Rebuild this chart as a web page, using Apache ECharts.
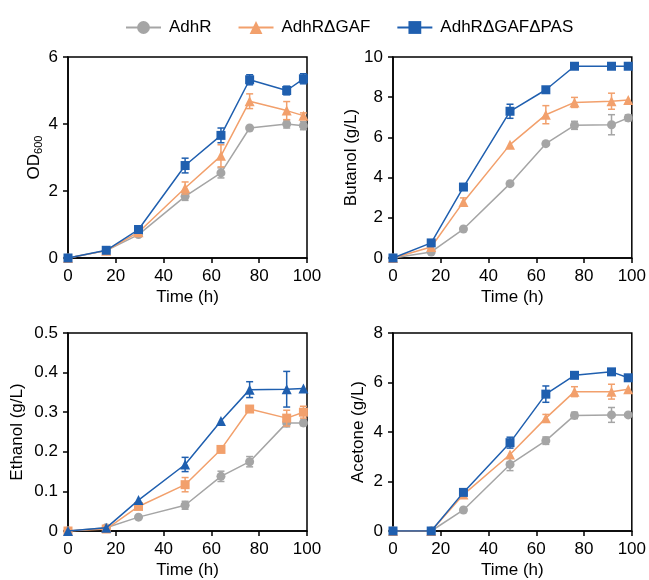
<!DOCTYPE html>
<html>
<head>
<meta charset="utf-8">
<script src="https://cdn.jsdelivr.net/npm/echarts@6/dist/echarts.min.js"></script>
<style>
  html, body { margin: 0; padding: 0; background: #fff; }
  #main { width: 649px; height: 580px; }
</style>
</head>
<body>
<div id="main"></div>
<script>
// sampling times (h)
const times = [0, 16, 29.5, 49, 64, 76, 91.5, 98.5];
const strains = ["AdhR", "AdhRΔGAF", "AdhRΔGAFΔPAS"];

// OD600
const odAdhR = [0, 0.22, 0.7, 1.84, 2.54, 3.88, 4.0, 3.95];
const odAdhRErr = [0, 0, 0, 0.12, 0.15, 0, 0.12, 0.12];
const odGAF = [0, 0.22, 0.77, 2.09, 3.05, 4.68, 4.4, 4.25];
const odGAFErr = [0, 0, 0, 0.18, 0.33, 0.22, 0.27, 0.08];
const odPAS = [0, 0.23, 0.85, 2.76, 3.66, 5.32, 5.0, 5.35];
const odPASErr = [0, 0, 0.05, 0.22, 0.22, 0.15, 0.13, 0.15];

// Butanol (g/L)
const buAdhR = [0, 0.3, 1.44, 3.7, 5.69, 6.6, 6.63, 6.97];
const buAdhRErr = [0, 0, 0, 0, 0, 0.2, 0.5, 0.15];
const buGAF = [0, 0.55, 2.79, 5.64, 7.13, 7.74, 7.8, 7.86];
const buGAFErr = [0, 0, 0.2, 0, 0.45, 0.25, 0.4, 0];
const buPAS = [0, 0.75, 3.53, 7.3, 8.37, 9.54, 9.54, 9.54];
const buPASErr = [0, 0, 0, 0.35, 0, 0, 0, 0];

// Ethanol (g/L)
const etAdhR = [0, 0.008, 0.035, 0.065, 0.138, 0.175, 0.273, 0.273];
const etAdhRErr = [0, 0, 0, 0.01, 0.013, 0.013, 0.01, 0.007];
const etGAF = [0, 0.005, 0.062, 0.117, 0.206, 0.308, 0.285, 0.3];
const etGAFErr = [0, 0, 0, 0.018, 0, 0, 0.02, 0.015];
const etPAS = [0, 0.008, 0.078, 0.168, 0.278, 0.357, 0.358, 0.36];
const etPASErr = [0, 0, 0, 0.018, 0, 0.02, 0.045, 0];

// Acetone (g/L)
const acAdhR = [0, 0, 0.85, 2.69, 3.65, 4.67, 4.69, 4.69];
const acAdhRErr = [0, 0, 0, 0.25, 0.15, 0.13, 0.3, 0];
const acGAF = [0, 0, 1.47, 3.09, 4.56, 5.63, 5.63, 5.73];
const acGAFErr = [0, 0, 0, 0, 0.15, 0.2, 0.3, 0];
const acPAS = [0, 0, 1.56, 3.57, 5.53, 6.29, 6.43, 6.19];
const acPASErr = [0, 0, 0, 0.22, 0.33, 0.1, 0, 0];

const colors = ["#a5a5a5", "#f2a06c", "#1f5faf"];
const font = "Liberation Sans, Arial, sans-serif";

const panels = [
  { name: "OD{s|600}", max: 6, interval: 2, gap: 23,
    data: [[odAdhR, odAdhRErr], [odGAF, odGAFErr], [odPAS, odPASErr]],
    symbols: ["circle", "triangle", "rect"] },
  { name: "Butanol (g/L)", max: 10, interval: 2, gap: 26,
    data: [[buAdhR, buAdhRErr], [buGAF, buGAFErr], [buPAS, buPASErr]],
    symbols: ["circle", "triangle", "rect"] },
  { name: "Ethanol (g/L)", max: 0.5, interval: 0.1, gap: 42,
    data: [[etAdhR, etAdhRErr], [etGAF, etGAFErr], [etPAS, etPASErr]],
    symbols: ["circle", "rect", "triangle"] },
  { name: "Acetone (g/L)", max: 8, interval: 2, gap: 26,
    data: [[acAdhR, acAdhRErr], [acGAF, acGAFErr], [acPAS, acPASErr]],
    symbols: ["circle", "triangle", "rect"] }
];

const grids = [
  { left: 68, top: 57, width: 239, height: 201 },
  { left: 393, top: 57, width: 240, height: 201 },
  { left: 68, top: 333, width: 239, height: 200 },
  { left: 393, top: 333, width: 240, height: 200 }
];

const xAxis = [], yAxis = [], lineSeries = [], errSeries = [];

panels.forEach((p, k) => {
  xAxis.push({
    type: "value", gridIndex: k, min: 0, max: 100, interval: 20,
    name: "Time (h)", nameLocation: "middle", nameGap: 31,
    nameTextStyle: { fontSize: 17, color: "#000", fontFamily: font },
    axisLine: { lineStyle: { color: "#000", width: 1.5 } },
    axisTick: { length: 5, lineStyle: { color: "#000", width: 1.5 } },
    axisLabel: { fontSize: 17, color: "#000", fontFamily: font, margin: 10 },
    splitLine: { show: false }
  });
  yAxis.push({
    type: "value", gridIndex: k, min: 0, max: p.max, interval: p.interval,
    name: p.name, nameLocation: "middle", nameGap: p.gap,
    nameTextStyle: {
      fontSize: 17, color: "#000", fontFamily: font,
      rich: { s: { fontSize: 11, color: "#000", fontFamily: font, padding: [9, 0, 0, 0] } }
    },
    axisLine: { lineStyle: { color: "#000", width: 1.5 } },
    axisTick: { length: 5, lineStyle: { color: "#000", width: 1.5 } },
    axisLabel: { fontSize: 17, color: "#000", fontFamily: font, margin: 10 },
    splitLine: { show: false }
  });

  p.data.forEach((d, i) => {
    const vals = d[0], errs = d[1];
    lineSeries.push({
      type: "line", name: strains[i], xAxisIndex: k, yAxisIndex: k,
      data: times.map((t, j) => [t, vals[j]]),
      symbol: p.symbols[i], symbolSize: p.symbols[i] === "triangle" ? 10 : 9,
      color: colors[i], lineStyle: { width: 1.5 },
      z: 3 + i, animation: false
    });
    errSeries.push({
      type: "custom", xAxisIndex: k, yAxisIndex: k, z: 3 + i,
      data: times.map((t, j) => [t, vals[j], errs[j]]).filter(e => e[2] > 0),
      renderItem(params, api) {
        const x = api.value(0), y = api.value(1), e = api.value(2);
        const hi = api.coord([x, y + e]);
        const lo = api.coord([x, y - e]);
        const w = 3.5;
        const st = { stroke: colors[i], lineWidth: 1.5 };
        return {
          type: "group",
          children: [
            { type: "line", shape: { x1: hi[0], y1: hi[1], x2: lo[0], y2: lo[1] }, style: st },
            { type: "line", shape: { x1: hi[0] - w, y1: hi[1], x2: hi[0] + w, y2: hi[1] }, style: st },
            { type: "line", shape: { x1: lo[0] - w, y1: lo[1], x2: lo[0] + w, y2: lo[1] }, style: st }
          ]
        };
      },
      animation: false
    });
  });
});

const chart = echarts.init(document.getElementById("main"));
chart.setOption({
  backgroundColor: "#fff",
  animation: false,
  legend: {
    data: strains, left: 120, top: 14,
    itemWidth: 35, itemHeight: 16, itemGap: 26,
    textStyle: { fontSize: 17, color: "#000", fontFamily: font, padding: [0, 0, 0, 3] }
  },
  grid: grids.map(g => Object.assign({ show: true, borderColor: "#000", borderWidth: 1.5, backgroundColor: "transparent" }, g)),
  xAxis: xAxis,
  yAxis: yAxis,
  series: lineSeries.concat(errSeries)
});
</script>
</body>
</html>
